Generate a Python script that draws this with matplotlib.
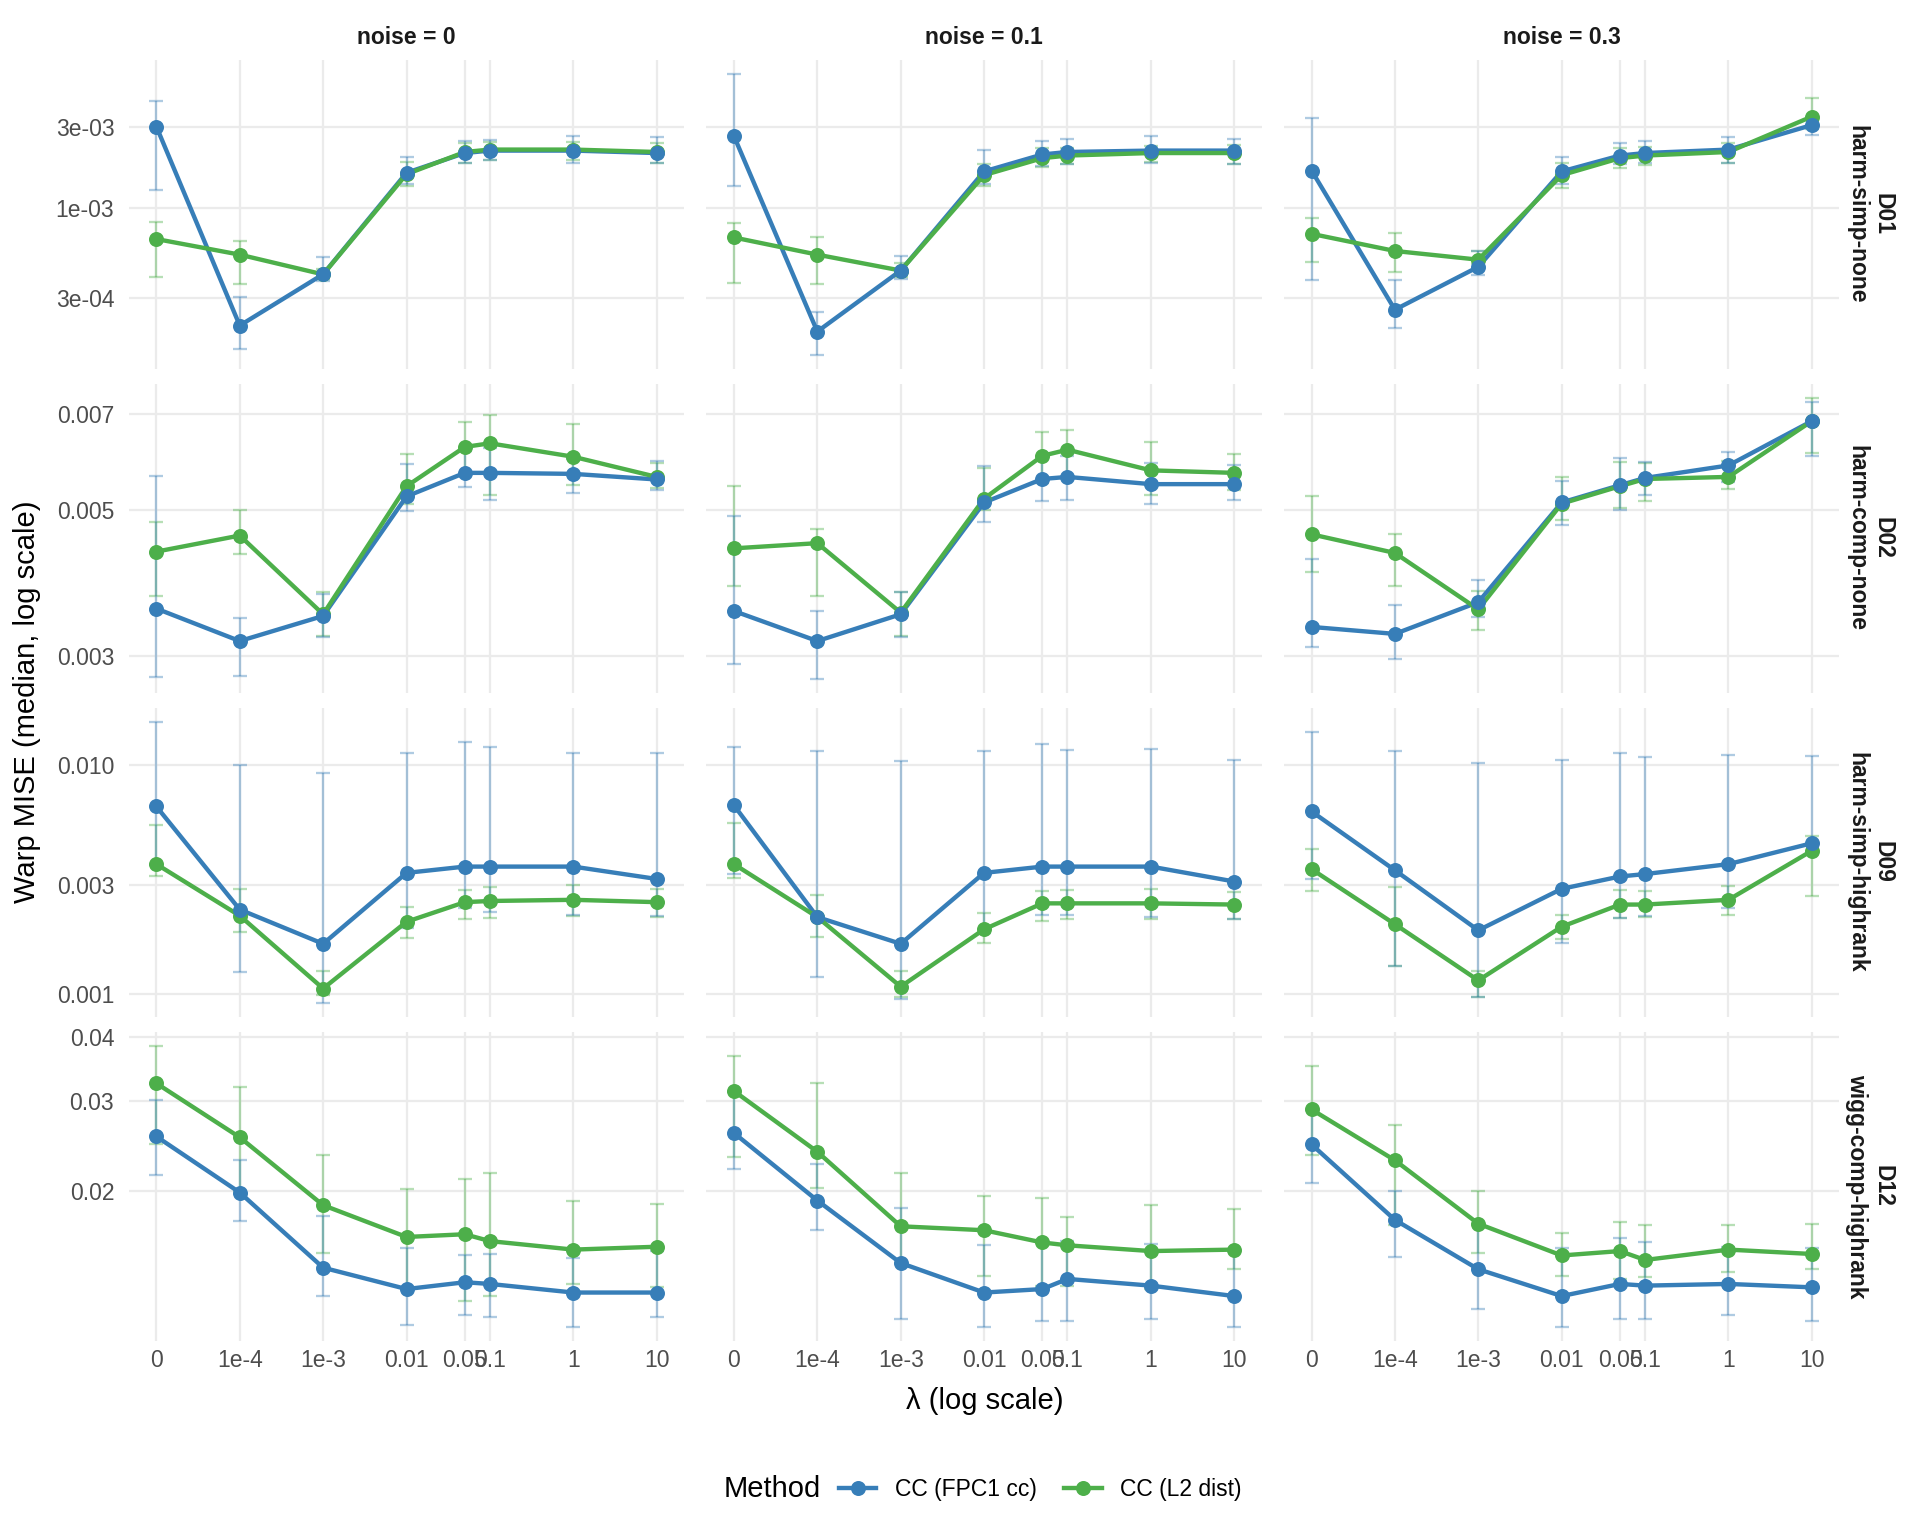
import numpy as np
import matplotlib
matplotlib.use("Agg")
import matplotlib.pyplot as plt
from matplotlib.lines import Line2D
from matplotlib.ticker import NullLocator

plt.rcParams['font.family'] = ['Liberation Sans', 'DejaVu Sans']

# ---------------- data ----------------
LAMBDAS = [0, 1e-4, 1e-3, 0.01, 0.05, 0.1, 1, 10]
LAMBDA_LABELS = ["0", "1e-4", "1e-3", "0.01", "0.05", "0.1", "1", "10"]
NOISE_LEVELS = ["0", "0.1", "0.3"]
DATASETS = ["D01\nharm-simp-none", "D02\nharm-comp-none",
            "D09\nharm-simp-highrank", "D12\nwigg-comp-highrank"]
METHODS = ["CC (FPC1 cc)", "CC (L2 dist)"]

# each list: one row per noise level (0, 0.1, 0.3), one value per lambda
D01_FPC_MED = [[3.0e-3, 2.06e-4, 4.11e-4, 1.61e-3, 2.10e-3, 2.17e-3, 2.17e-3, 2.10e-3],
               [2.64e-3, 1.90e-4, 4.32e-4, 1.64e-3, 2.06e-3, 2.13e-3, 2.17e-3, 2.17e-3],
               [1.66e-3, 2.55e-4, 4.54e-4, 1.64e-3, 2.03e-3, 2.10e-3, 2.20e-3, 3.06e-3]]
D01_FPC_LO = [[1.28e-3, 1.51e-4, 3.73e-4, 1.39e-3, 1.84e-3, 1.90e-3, 1.84e-3, 1.84e-3],
              [1.34e-3, 1.39e-4, 3.85e-4, 1.39e-3, 1.76e-3, 1.80e-3, 1.84e-3, 1.80e-3],
              [3.79e-4, 2.00e-4, 4.05e-4, 1.39e-3, 1.81e-3, 1.84e-3, 1.84e-3, 2.68e-3]]
D01_FPC_HI = [[4.25e-3, 3.01e-4, 5.18e-4, 2.00e-3, 2.47e-3, 2.51e-3, 2.64e-3, 2.60e-3],
              [6.10e-3, 2.47e-4, 5.26e-4, 2.20e-3, 2.47e-3, 2.55e-3, 2.64e-3, 2.55e-3],
              [3.38e-3, 3.79e-4, 5.63e-4, 2.00e-3, 2.39e-3, 2.47e-3, 2.60e-3, 3.43e-3]]
D01_L2_MED = [[6.60e-4, 5.35e-4, 4.10e-4, 1.58e-3, 2.13e-3, 2.20e-3, 2.20e-3, 2.13e-3],
              [6.74e-4, 5.35e-4, 4.32e-4, 1.56e-3, 1.96e-3, 2.03e-3, 2.10e-3, 2.10e-3],
              [7.08e-4, 5.62e-4, 5.00e-4, 1.56e-3, 1.96e-3, 2.03e-3, 2.13e-3, 3.43e-3]]
D01_L2_LO = [[3.98e-4, 3.61e-4, 3.85e-4, 1.34e-3, 1.84e-3, 1.90e-3, 1.90e-3, 1.84e-3],
             [3.67e-4, 3.61e-4, 3.98e-4, 1.34e-3, 1.75e-3, 1.81e-3, 1.87e-3, 1.81e-3],
             [4.85e-4, 4.25e-4, 4.69e-4, 1.32e-3, 1.72e-3, 1.78e-3, 1.84e-3, 2.91e-3]]
D01_L2_HI = [[8.34e-4, 6.41e-4, 4.39e-4, 1.87e-3, 2.39e-3, 2.43e-3, 2.43e-3, 2.39e-3],
             [8.20e-4, 6.74e-4, 4.77e-4, 1.81e-3, 2.24e-3, 2.24e-3, 2.31e-3, 2.35e-3],
             [8.77e-4, 7.20e-4, 5.63e-4, 1.84e-3, 2.24e-3, 2.27e-3, 2.39e-3, 4.40e-3]]

D02_FPC_MED = [[3.54e-3, 3.16e-3, 3.45e-3, 5.24e-3, 5.69e-3, 5.69e-3, 5.67e-3, 5.56e-3],
               [3.51e-3, 3.16e-3, 3.47e-3, 5.13e-3, 5.57e-3, 5.61e-3, 5.47e-3, 5.47e-3],
               [3.32e-3, 3.24e-3, 3.62e-3, 5.13e-3, 5.45e-3, 5.59e-3, 5.84e-3, 6.82e-3]]
D02_FPC_LO = [[2.79e-3, 2.80e-3, 3.21e-3, 4.98e-3, 5.42e-3, 5.17e-3, 5.30e-3, 5.36e-3],
              [2.92e-3, 2.77e-3, 3.20e-3, 4.79e-3, 5.15e-3, 5.17e-3, 5.11e-3, 5.17e-3],
              [3.10e-3, 2.97e-3, 3.44e-3, 4.75e-3, 5.00e-3, 5.26e-3, 5.52e-3, 6.04e-3]]
D02_FPC_HI = [[5.62e-3, 3.42e-3, 3.73e-3, 5.86e-3, 6.15e-3, 6.20e-3, 5.98e-3, 5.94e-3],
              [4.89e-3, 3.51e-3, 3.75e-3, 5.82e-3, 6.02e-3, 6.04e-3, 5.89e-3, 5.85e-3],
              [4.21e-3, 3.59e-3, 3.91e-3, 5.54e-3, 5.99e-3, 5.91e-3, 6.12e-3, 7.30e-3]]
D02_L2_MED = [[4.32e-3, 4.57e-3, 3.47e-3, 5.43e-3, 6.23e-3, 6.31e-3, 6.02e-3, 5.61e-3],
              [4.37e-3, 4.45e-3, 3.49e-3, 5.20e-3, 6.04e-3, 6.17e-3, 5.74e-3, 5.69e-3],
              [4.59e-3, 4.30e-3, 3.53e-3, 5.11e-3, 5.43e-3, 5.57e-3, 5.61e-3, 6.82e-3]]
D02_L2_LO = [[3.70e-3, 4.28e-3, 3.22e-3, 5.11e-3, 5.67e-3, 5.26e-3, 5.45e-3, 5.40e-3],
             [3.83e-3, 3.70e-3, 3.22e-3, 5.00e-3, 5.50e-3, 5.61e-3, 5.26e-3, 5.36e-3],
             [4.03e-3, 3.83e-3, 3.29e-3, 4.83e-3, 5.04e-3, 5.15e-3, 5.38e-3, 6.09e-3]]
D02_L2_HI = [[4.79e-3, 5.00e-3, 3.75e-3, 6.07e-3, 6.79e-3, 6.96e-3, 6.76e-3, 5.89e-3],
             [5.43e-3, 4.67e-3, 3.75e-3, 5.79e-3, 6.56e-3, 6.61e-3, 6.34e-3, 6.07e-3],
             [5.24e-3, 4.59e-3, 3.76e-3, 5.61e-3, 5.91e-3, 5.89e-3, 5.94e-3, 7.40e-3]]

D09_FPC_MED = [[6.58e-3, 2.34e-3, 1.66e-3, 3.38e-3, 3.60e-3, 3.60e-3, 3.60e-3, 3.18e-3],
               [6.66e-3, 2.17e-3, 1.66e-3, 3.38e-3, 3.60e-3, 3.60e-3, 3.60e-3, 3.10e-3],
               [6.26e-3, 3.47e-3, 1.90e-3, 2.88e-3, 3.26e-3, 3.34e-3, 3.69e-3, 4.55e-3]]
D09_FPC_LO = [[3.64e-3, 1.25e-3, 9.20e-4, 1.94e-3, 2.37e-3, 2.28e-3, 2.22e-3, 2.20e-3],
              [3.34e-3, 1.19e-3, 9.50e-4, 1.85e-3, 2.22e-3, 2.22e-3, 2.18e-3, 2.12e-3],
              [3.18e-3, 1.33e-3, 9.75e-4, 1.68e-3, 2.14e-3, 2.20e-3, 2.37e-3, 4.17e-3]]
D09_FPC_HI = [[1.54e-2, 1.00e-2, 9.18e-3, 1.12e-2, 1.25e-2, 1.19e-2, 1.12e-2, 1.12e-2],
              [1.19e-2, 1.15e-2, 1.04e-2, 1.15e-2, 1.23e-2, 1.16e-2, 1.17e-2, 1.05e-2],
              [1.39e-2, 1.15e-2, 1.02e-2, 1.05e-2, 1.12e-2, 1.08e-2, 1.10e-2, 1.09e-2]]
D09_L2_MED = [[3.69e-3, 2.20e-3, 1.06e-3, 2.07e-3, 2.52e-3, 2.55e-3, 2.58e-3, 2.52e-3],
              [3.69e-3, 2.17e-3, 1.08e-3, 1.92e-3, 2.49e-3, 2.49e-3, 2.49e-3, 2.46e-3],
              [3.51e-3, 2.02e-3, 1.15e-3, 1.97e-3, 2.46e-3, 2.46e-3, 2.58e-3, 4.22e-3]]
D09_L2_LO = [[3.26e-3, 1.87e-3, 9.90e-4, 1.76e-3, 2.12e-3, 2.14e-3, 2.20e-3, 2.17e-3],
             [3.22e-3, 1.78e-3, 9.75e-4, 1.68e-3, 2.09e-3, 2.12e-3, 2.12e-3, 2.12e-3],
             [2.81e-3, 1.33e-3, 9.75e-4, 1.74e-3, 2.14e-3, 2.17e-3, 2.22e-3, 2.68e-3]]
D09_L2_HI = [[5.47e-3, 2.88e-3, 1.26e-3, 2.40e-3, 2.85e-3, 2.92e-3, 2.99e-3, 2.88e-3],
             [5.60e-3, 2.71e-3, 1.26e-3, 2.25e-3, 2.81e-3, 2.85e-3, 2.88e-3, 2.78e-3],
             [4.28e-3, 2.92e-3, 1.26e-3, 2.22e-3, 2.85e-3, 2.81e-3, 2.95e-3, 4.90e-3]]

D12_FPC_MED = [[2.56e-2, 1.99e-2, 1.42e-2, 1.29e-2, 1.33e-2, 1.32e-2, 1.27e-2, 1.27e-2],
               [2.60e-2, 1.92e-2, 1.45e-2, 1.27e-2, 1.29e-2, 1.35e-2, 1.31e-2, 1.25e-2],
               [2.47e-2, 1.76e-2, 1.41e-2, 1.25e-2, 1.32e-2, 1.31e-2, 1.32e-2, 1.30e-2]]
D12_FPC_LO = [[2.15e-2, 1.75e-2, 1.25e-2, 1.10e-2, 1.15e-2, 1.14e-2, 1.09e-2, 1.14e-2],
              [2.21e-2, 1.68e-2, 1.13e-2, 1.09e-2, 1.12e-2, 1.12e-2, 1.13e-2, 1.09e-2],
              [2.08e-2, 1.49e-2, 1.18e-2, 1.09e-2, 1.13e-2, 1.13e-2, 1.15e-2, 1.12e-2]]
D12_FPC_HI = [[3.02e-2, 2.30e-2, 1.79e-2, 1.55e-2, 1.50e-2, 1.51e-2, 1.48e-2, 1.53e-2],
              [3.12e-2, 2.26e-2, 1.86e-2, 1.57e-2, 1.60e-2, 1.60e-2, 1.58e-2, 1.53e-2],
              [2.88e-2, 2.00e-2, 1.73e-2, 1.55e-2, 1.62e-2, 1.59e-2, 1.56e-2, 1.55e-2]]
D12_L2_MED = [[3.25e-2, 2.55e-2, 1.88e-2, 1.63e-2, 1.65e-2, 1.60e-2, 1.54e-2, 1.56e-2],
              [3.14e-2, 2.39e-2, 1.71e-2, 1.68e-2, 1.59e-2, 1.57e-2, 1.53e-2, 1.54e-2],
              [2.89e-2, 2.30e-2, 1.73e-2, 1.50e-2, 1.53e-2, 1.47e-2, 1.54e-2, 1.51e-2]]
D12_L2_LO = [[2.48e-2, 2.00e-2, 1.52e-2, 1.29e-2, 1.22e-2, 1.25e-2, 1.32e-2, 1.30e-2],
             [2.33e-2, 2.03e-2, 1.45e-2, 1.37e-2, 1.31e-2, 1.31e-2, 1.29e-2, 1.41e-2],
             [2.36e-2, 1.72e-2, 1.52e-2, 1.37e-2, 1.35e-2, 1.36e-2, 1.39e-2, 1.41e-2]]
D12_L2_HI = [[3.85e-2, 3.20e-2, 2.36e-2, 2.02e-2, 2.11e-2, 2.17e-2, 1.92e-2, 1.89e-2],
             [3.67e-2, 3.26e-2, 2.17e-2, 1.96e-2, 1.94e-2, 1.78e-2, 1.88e-2, 1.85e-2],
             [3.51e-2, 2.69e-2, 2.00e-2, 1.66e-2, 1.74e-2, 1.72e-2, 1.72e-2, 1.73e-2]]

Y_TICKS = [[3e-4, 1e-3, 3e-3], [0.003, 0.005, 0.007], [0.001, 0.003, 0.010], [0.02, 0.03, 0.04]]
Y_TICK_LABELS = [["3e-04", "1e-03", "3e-03"], ["0.003", "0.005", "0.007"],
                 ["0.001", "0.003", "0.010"], ["0.02", "0.03", "0.04"]]

ROWS = [
    [(D01_FPC_MED, D01_FPC_LO, D01_FPC_HI), (D01_L2_MED, D01_L2_LO, D01_L2_HI)],
    [(D02_FPC_MED, D02_FPC_LO, D02_FPC_HI), (D02_L2_MED, D02_L2_LO, D02_L2_HI)],
    [(D09_FPC_MED, D09_FPC_LO, D09_FPC_HI), (D09_L2_MED, D09_L2_LO, D09_L2_HI)],
    [(D12_FPC_MED, D12_FPC_LO, D12_FPC_HI), (D12_L2_MED, D12_L2_LO, D12_L2_HI)],
]

# ---------------- style ----------------
COLORS = ["#377EB8", "#4DAF4A"]
ZERO_POS = 1e-5          # where lambda = 0 is drawn on the log axis
TICK_COLOR = "#4D4D4D"
GRID_COLOR = "#EBEBEB"
LW = 2.1
MS = 7.2

x_pos = np.array([ZERO_POS if v == 0 else v for v in LAMBDAS])
lx = np.log10(x_pos)
xpad = 0.055 * (lx.max() - lx.min())
xlim = (10 ** (lx.min() - xpad), 10 ** (lx.max() + xpad))

fig = plt.figure(figsize=(12.8, 10.24), dpi=150)
gs = fig.add_gridspec(4, 3, left=0.0671, right=0.958, top=0.9611, bottom=0.1272,
                      wspace=0.04, hspace=0.048)

for r, row in enumerate(ROWS):
    allv = np.concatenate([np.ravel(a) for m in row for a in m])
    llo, lhi = np.log10(allv.min()), np.log10(allv.max())
    ypad = 0.05 * (lhi - llo)
    ylim = (10 ** (llo - ypad), 10 ** (lhi + ypad))
    for c in range(3):
        ax = fig.add_subplot(gs[r, c])
        ax.set_xscale('log')
        ax.set_yscale('log')
        # error bars (L2 first, then FPC)
        for k in (1, 0):
            med = np.array(row[k][0][c]); lo = np.array(row[k][1][c]); hi = np.array(row[k][2][c])
            ax.errorbar(x_pos, med, yerr=[med - lo, hi - med], fmt='none', ecolor=COLORS[k],
                        alpha=0.4, elinewidth=1.1, capsize=3.2, capthick=1.1, zorder=2)
        # lines (FPC first, then L2)
        for k in (0, 1):
            med = np.array(row[k][0][c])
            ax.plot(x_pos, med, color=COLORS[k], lw=LW, solid_capstyle='butt', zorder=3)
        # points (L2 first, then FPC on top)
        for k in (1, 0):
            med = np.array(row[k][0][c])
            ax.plot(x_pos, med, 'o', color=COLORS[k], ms=MS, mew=0, zorder=4)

        ax.set_xlim(*xlim)
        ax.set_ylim(*ylim)
        ax.xaxis.set_minor_locator(NullLocator())
        ax.yaxis.set_minor_locator(NullLocator())
        ax.set_xticks(x_pos)
        ax.set_yticks(Y_TICKS[r])
        if r == 3:
            ax.set_xticklabels(LAMBDA_LABELS)
        else:
            ax.set_xticklabels([])
        if c == 0:
            ax.set_yticklabels(Y_TICK_LABELS[r])
        else:
            ax.set_yticklabels([])
        ax.tick_params(axis='both', which='both', length=0, labelsize=11,
                       labelcolor=TICK_COLOR)
        ax.tick_params(axis='y', pad=7)
        ax.tick_params(axis='x', pad=4)
        ax.grid(True, which='major', color=GRID_COLOR, lw=1.1)
        ax.set_axisbelow(True)
        for s in ax.spines.values():
            s.set_visible(False)
        if r == 0:
            ax.text(0.5, 1.073, f"noise = {NOISE_LEVELS[c]}", transform=ax.transAxes,
                    ha='center', va='center', fontsize=11, fontweight='bold', color='#1A1A1A')
        if c == 2:
            ax.text(1.055, 0.5, DATASETS[r], transform=ax.transAxes, rotation=270,
                    ha='center', va='center', multialignment='center',
                    fontsize=11, fontweight='bold', color='#1A1A1A', linespacing=1.15)

fig.text(0.513, 0.0881, "λ (log scale)", ha='center', va='center', fontsize=14)
fig.text(0.0141, 0.543, "Warp MISE (median, log scale)", ha='center', va='center',
         rotation=90, fontsize=14)

# legend
fig.text(0.377, 0.0305, "Method", ha='left', va='center', fontsize=14)
handles = [Line2D([0], [0], color=COLORS[k], lw=LW, marker='o', ms=MS, mew=0) for k in (0, 1)]
fig.legend(handles, METHODS, loc='center left', bbox_to_anchor=(0.432, 0.0305), ncol=2,
           frameon=False, fontsize=11, handlelength=1.65, handletextpad=0.8,
           columnspacing=1.2, borderaxespad=0)

fig.savefig("out.png", dpi=150)
